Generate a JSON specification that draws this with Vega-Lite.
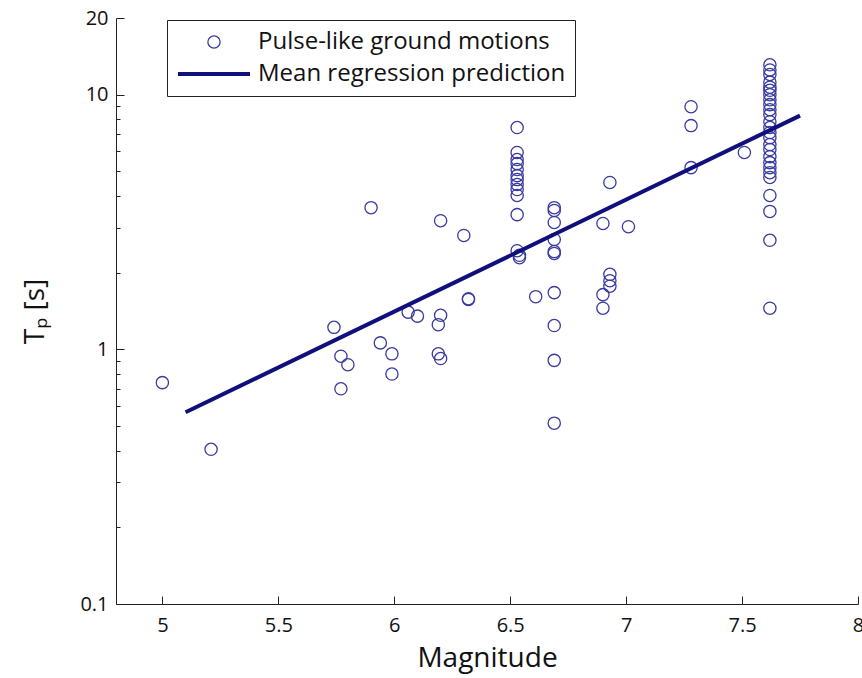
{
  "$schema": "https://vega.github.io/schema/vega-lite/v6.json",
  "width": 742,
  "height": 586,
  "autosize": "none",
  "padding": {"left": 116, "top": 18, "right": 4, "bottom": 74},
  "background": "white",
  "config": {
    "view": {"stroke": null},
    "font": "Open Sans",
    "axis": {
      "grid": false,
      "domainColor": "#222222",
      "tickColor": "#222222",
      "labelColor": "#111111",
      "titleColor": "#111111",
      "labelFontSize": 20,
      "titleFontSize": 28,
      "titleFontWeight": "normal",
      "labelFlush": false,
      "labelOverlap": false
    },
    "legend": {
      "orient": "none", "legendX": 51, "legendY": 2, "title": null,
      "strokeColor": "#222222", "fillColor": "white", "padding": 9,
      "labelFontSize": 24, "labelColor": "#111111", "labelOffset": 6, "labelLimit": 0,
      "rowPadding": 6, "clipHeight": 26
    }
  },
  "datasets": {
    "pts": [
      {"M": 5.00, "Tp": 0.74}, {"M": 5.21, "Tp": 0.405}, {"M": 5.74, "Tp": 1.22}, {"M": 5.77, "Tp": 0.94},
      {"M": 5.77, "Tp": 0.70}, {"M": 5.80, "Tp": 0.87}, {"M": 5.90, "Tp": 3.6}, {"M": 5.94, "Tp": 1.06},
      {"M": 5.99, "Tp": 0.96}, {"M": 5.99, "Tp": 0.80}, {"M": 6.06, "Tp": 1.40}, {"M": 6.10, "Tp": 1.35},
      {"M": 6.20, "Tp": 3.2}, {"M": 6.19, "Tp": 1.25}, {"M": 6.20, "Tp": 1.36}, {"M": 6.19, "Tp": 0.96},
      {"M": 6.20, "Tp": 0.92}, {"M": 6.30, "Tp": 2.8}, {"M": 6.32, "Tp": 1.57}, {"M": 6.32, "Tp": 1.58},
      {"M": 6.53, "Tp": 7.43}, {"M": 6.53, "Tp": 5.93}, {"M": 6.53, "Tp": 5.56}, {"M": 6.53, "Tp": 5.36},
      {"M": 6.53, "Tp": 5.08}, {"M": 6.53, "Tp": 4.81}, {"M": 6.53, "Tp": 4.64}, {"M": 6.53, "Tp": 4.44},
      {"M": 6.53, "Tp": 4.24}, {"M": 6.53, "Tp": 4.02}, {"M": 6.53, "Tp": 3.38}, {"M": 6.53, "Tp": 2.44},
      {"M": 6.54, "Tp": 2.34}, {"M": 6.54, "Tp": 2.29}, {"M": 6.61, "Tp": 1.61},
      {"M": 6.69, "Tp": 3.6}, {"M": 6.69, "Tp": 3.51}, {"M": 6.69, "Tp": 3.15}, {"M": 6.69, "Tp": 2.7},
      {"M": 6.69, "Tp": 2.42}, {"M": 6.69, "Tp": 2.38}, {"M": 6.69, "Tp": 1.67}, {"M": 6.69, "Tp": 1.24},
      {"M": 6.69, "Tp": 0.905}, {"M": 6.69, "Tp": 0.513},
      {"M": 6.90, "Tp": 3.12}, {"M": 6.93, "Tp": 4.52}, {"M": 7.01, "Tp": 3.03},
      {"M": 6.93, "Tp": 1.97}, {"M": 6.93, "Tp": 1.86}, {"M": 6.93, "Tp": 1.77}, {"M": 6.90, "Tp": 1.64},
      {"M": 6.90, "Tp": 1.45},
      {"M": 7.28, "Tp": 8.97}, {"M": 7.28, "Tp": 7.56}, {"M": 7.28, "Tp": 5.17}, {"M": 7.51, "Tp": 5.93},
      {"M": 7.62, "Tp": 13.1}, {"M": 7.62, "Tp": 12.5}, {"M": 7.62, "Tp": 12.0}, {"M": 7.62, "Tp": 11.2},
      {"M": 7.62, "Tp": 10.7}, {"M": 7.62, "Tp": 10.4}, {"M": 7.62, "Tp": 10.0}, {"M": 7.62, "Tp": 9.55},
      {"M": 7.62, "Tp": 9.14}, {"M": 7.62, "Tp": 8.73}, {"M": 7.62, "Tp": 8.35}, {"M": 7.62, "Tp": 7.83},
      {"M": 7.62, "Tp": 7.43}, {"M": 7.62, "Tp": 7.10}, {"M": 7.62, "Tp": 6.78}, {"M": 7.62, "Tp": 6.37},
      {"M": 7.62, "Tp": 6.09}, {"M": 7.62, "Tp": 5.71}, {"M": 7.62, "Tp": 5.41}, {"M": 7.62, "Tp": 5.17},
      {"M": 7.62, "Tp": 4.94}, {"M": 7.62, "Tp": 4.73}, {"M": 7.62, "Tp": 4.02}, {"M": 7.62, "Tp": 3.48},
      {"M": 7.62, "Tp": 2.68}, {"M": 7.62, "Tp": 1.45}
    ],
    "fit": [
      {"M": 5.10, "Tp": 0.566},
      {"M": 7.75, "Tp": 8.27}
    ]
  },
  "layer": [
    {
      "data": {"name": "pts"},
      "mark": {"type": "point", "shape": "circle", "filled": false, "opacity": 1},
      "encoding": {
        "x": {
          "field": "M", "type": "quantitative",
          "scale": {"domain": [4.8, 8], "nice": false, "zero": false},
          "axis": {"title": "Magnitude", "values": [5, 5.5, 6, 6.5, 7, 7.5, 8], "format": "~g", "tickSize": -8, "labelPadding": 19, "titlePadding": 9}
        },
        "y": {
          "field": "Tp", "type": "quantitative",
          "scale": {"type": "log", "domain": [0.1, 20], "nice": false},
          "axis": {"title": "Tₚ  [s]", "orient": "left", "values": [0.1, 1, 10, 20], "format": "~g", "tickSize": -8, "labelPadding": 16, "titlePadding": 30}
        },
        "color": {
          "datum": "Pulse-like ground motions",
          "scale": {"domain": ["Pulse-like ground motions", "Mean regression prediction"], "range": ["#3a3aa0", "#10107c"]}
        },
        "shape": {
          "datum": "Pulse-like ground motions",
          "scale": {"domain": ["Pulse-like ground motions", "Mean regression prediction"], "range": ["circle", "stroke"]}
        },
        "size": {
          "datum": "Pulse-like ground motions",
          "scale": {"domain": ["Pulse-like ground motions", "Mean regression prediction"], "range": [150, 5184]}
        },
        "strokeWidth": {
          "datum": "Pulse-like ground motions",
          "scale": {"domain": ["Pulse-like ground motions", "Mean regression prediction"], "range": [1.3, 4]}
        }
      }
    },
    {
      "data": {"name": "fit"},
      "mark": {"type": "line", "strokeWidth": 4},
      "encoding": {
        "x": {"field": "M", "type": "quantitative"},
        "y": {
          "field": "Tp", "type": "quantitative",
          "axis": {"title": null, "orient": "left", "values": [0.2, 0.3, 0.4, 0.5, 0.6, 0.7, 0.8, 0.9, 2, 3, 4, 5, 6, 7, 8, 9], "labels": false, "domain": false, "tickSize": -4}
        },
        "color": {"datum": "Mean regression prediction"}
      }
    }
  ],
  "resolve": {"axis": {"y": "independent"}}
}
